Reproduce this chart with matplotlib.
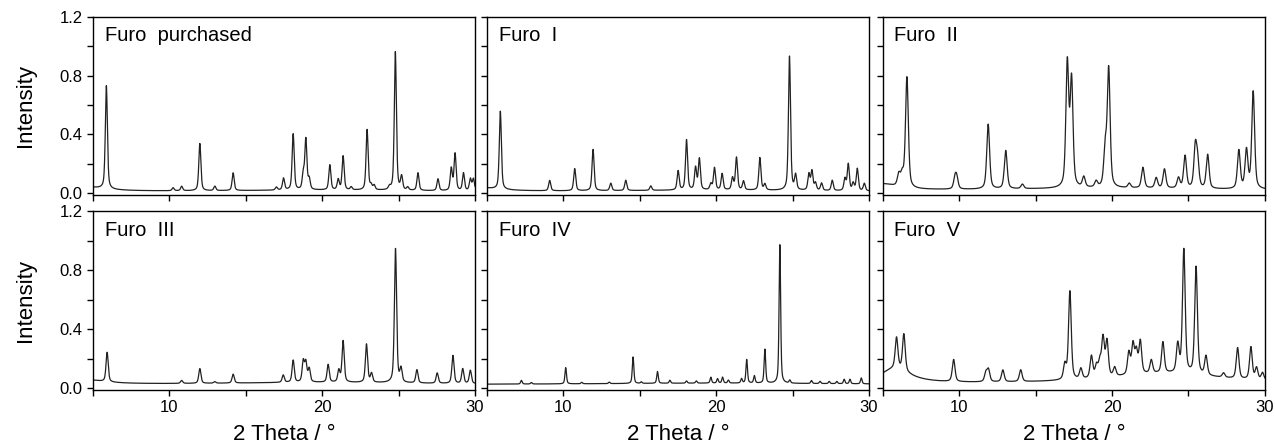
import numpy as np
import matplotlib
matplotlib.use('Agg')
import matplotlib.pyplot as plt
from matplotlib.ticker import MultipleLocator

plt.rcParams['font.family'] = ['Liberation Sans', 'DejaVu Sans']

# Peak lists (2 theta in deg, intensity)
purchased_pos = [5.87, 10.24, 10.8, 11.99, 12.97, 14.17, 17.0, 17.47, 18.1, 18.76, 18.93, 19.15,
                 20.5, 21.05, 21.37, 21.9, 22.94, 23.2, 23.4, 24.4, 24.79, 25.2, 25.6, 26.27,
                 27.58, 28.45, 28.7, 29.25, 29.7, 29.9]
purchased_int = [0.70, 0.02, 0.03, 0.32, 0.03, 0.12, 0.02, 0.08, 0.38, 0.10, 0.34, 0.07,
                 0.17, 0.07, 0.23, 0.02, 0.41, 0.03, 0.03, 0.02, 0.94, 0.09, 0.02, 0.12,
                 0.08, 0.15, 0.25, 0.12, 0.08, 0.08]

form1_pos = [5.87, 9.1, 10.74, 11.94, 13.1, 14.08, 15.72, 17.51, 18.06, 18.65, 18.9, 19.65,
             19.89, 20.39, 21.07, 21.33, 21.79, 22.86, 23.19, 24.8, 25.2, 26.07, 26.27, 26.5,
             26.9, 27.6, 28.43, 28.65, 28.97, 29.24, 29.7]
form1_int = [0.53, 0.07, 0.15, 0.28, 0.05, 0.07, 0.03, 0.13, 0.34, 0.15, 0.21, 0.04,
             0.15, 0.11, 0.08, 0.22, 0.06, 0.22, 0.04, 0.91, 0.10, 0.11, 0.13, 0.05,
             0.05, 0.07, 0.08, 0.18, 0.05, 0.15, 0.05]

form2_pos = [6.04, 6.26, 6.57, 9.72, 9.83, 11.89, 13.04, 14.13, 17.07, 17.35, 18.15, 18.96,
             19.55, 19.78, 21.13, 22.02, 22.89, 23.43, 24.35, 24.78, 25.45, 25.6, 26.26,
             28.3, 28.8, 29.24]
form2_int = [0.08, 0.08, 0.75, 0.07, 0.07, 0.44, 0.26, 0.03, 0.84, 0.72, 0.07, 0.04,
             0.25, 0.80, 0.03, 0.14, 0.07, 0.13, 0.07, 0.22, 0.27, 0.17, 0.23,
             0.26, 0.26, 0.66]

form3_pos = [5.92, 10.8, 11.99, 12.97, 14.17, 17.45, 18.1, 18.76, 18.93, 19.15, 20.39, 21.09,
             21.37, 22.9, 23.23, 24.8, 25.16, 26.2, 27.53, 28.56, 29.2, 29.7]
form3_int = [0.20, 0.02, 0.10, 0.01, 0.06, 0.05, 0.15, 0.14, 0.13, 0.09, 0.12, 0.08,
             0.28, 0.26, 0.06, 0.91, 0.09, 0.09, 0.07, 0.19, 0.10, 0.09]

form4_pos = [7.25, 7.9, 10.15, 11.2, 13.0, 14.56, 15.1, 16.16, 16.97, 18.06, 18.7, 19.65,
             20.09, 20.42, 20.8, 21.66, 22.0, 22.5, 23.19, 24.17, 24.82, 26.24, 26.8,
             27.4, 27.9, 28.38, 28.76, 29.5]
form4_int = [0.025, 0.01, 0.11, 0.01, 0.01, 0.18, 0.01, 0.08, 0.02, 0.015, 0.015, 0.04,
             0.03, 0.04, 0.02, 0.03, 0.16, 0.05, 0.23, 0.94, 0.02, 0.02, 0.015,
             0.015, 0.015, 0.03, 0.03, 0.04]

form5_pos = [5.89, 6.37, 9.63, 11.74, 11.91, 12.85, 14.02, 16.91, 17.24, 17.96, 18.65, 18.98,
             19.2, 19.41, 19.67, 20.17, 21.1, 21.37, 21.59, 21.85, 22.57, 23.33, 24.3, 24.7,
             25.5, 26.15, 27.3, 28.22, 29.09, 29.46, 29.85]
form5_int = [0.21, 0.25, 0.15, 0.06, 0.08, 0.08, 0.08, 0.10, 0.60, 0.07, 0.15, 0.08,
             0.10, 0.26, 0.24, 0.06, 0.15, 0.20, 0.15, 0.22, 0.09, 0.21, 0.19, 0.84,
             0.73, 0.13, 0.03, 0.21, 0.22, 0.08, 0.05]

# broad background humps: centre, height, half width
purchased_bg = [(4.5, 0.03, 1.5), (20.0, 0.01, 8.0)]
form1_bg = [(4.5, 0.025, 1.5), (20.0, 0.01, 8.0)]
form2_bg = [(5.0, 0.04, 1.0), (20.0, 0.015, 8.0)]
form3_bg = [(4.5, 0.03, 1.5), (20.0, 0.015, 8.0)]
form4_bg = [(20.0, 0.01, 10.0)]
form5_bg = [(5.8, 0.10, 1.2), (23.5, 0.07, 4.5)]

baselines = [0.012, 0.012, 0.02, 0.025, 0.025, 0.03]
peak_widths = [0.08, 0.08, 0.11, 0.085, 0.06, 0.105]

labels = ['Furo  purchased', 'Furo  I', 'Furo  II', 'Furo  III', 'Furo  IV', 'Furo  V']
positions = [purchased_pos, form1_pos, form2_pos, form3_pos, form4_pos, form5_pos]
intensities = [purchased_int, form1_int, form2_int, form3_int, form4_int, form5_int]
backgrounds = [purchased_bg, form1_bg, form2_bg, form3_bg, form4_bg, form5_bg]

theta = np.arange(5.0, 30.001, 0.01)


def profile(x, c, w):
    # pseudo-Voigt shape
    u = (x - c) / w
    return 0.5 / (1 + u ** 2) + 0.5 * np.exp(-np.log(2) * u ** 2)


fig = plt.figure(figsize=(12.75, 4.48), dpi=100)

lefts = [0.073, 0.382, 0.6925]
bottoms = [0.565, 0.130]
w = 0.2995
h = 0.398

for i in range(6):
    row, col = divmod(i, 3)
    ax = fig.add_axes([lefts[col], bottoms[row], w, h])

    y = np.full_like(theta, baselines[i])
    for c, a in zip(positions[i], intensities[i]):
        y += a * profile(theta, c, peak_widths[i])
    for c, a, bw in backgrounds[i]:
        y += a / (1 + ((theta - c) / bw) ** 2)

    ax.plot(theta, y, color='#222222', lw=0.9)
    ax.set_xlim(5, 30)
    ax.set_ylim(-0.01, 1.2)

    ax.xaxis.set_major_locator(MultipleLocator(10))
    ax.xaxis.set_minor_locator(MultipleLocator(5))
    ax.yaxis.set_major_locator(MultipleLocator(0.4))
    ax.yaxis.set_minor_locator(MultipleLocator(0.2))
    ax.tick_params(which='both', direction='out', length=4, width=1, labelsize=12)

    for s in ax.spines.values():
        s.set_linewidth(1.0)

    if col == 0:
        ax.set_yticklabels(['%.1f' % v for v in ax.get_yticks()])
        ax.set_ylabel('Intensity', fontsize=16)
        ax.yaxis.set_label_coords(-0.15, 0.5)
    else:
        ax.set_yticklabels([])

    if row == 1:
        ax.set_xlabel('2 Theta / °', fontsize=16, labelpad=6)
    else:
        ax.set_xticklabels([])

    ax.text(0.03, 0.945, labels[i], transform=ax.transAxes, fontsize=14.5,
            ha='left', va='top')

fig.savefig('out.png', dpi=100)
